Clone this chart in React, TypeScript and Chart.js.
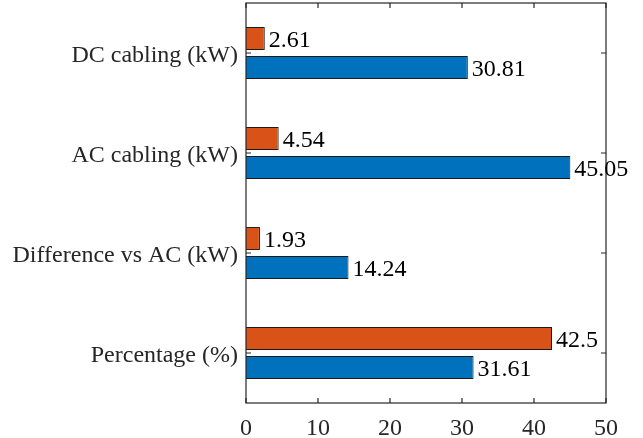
import React, { useEffect, useRef } from "react";
import { Chart, registerables, type ChartConfiguration, type Plugin } from "chart.js";

Chart.register(...registerables);

// chart data
const categories = ["DC cabling (kW)", "AC cabling (kW)", "Difference vs AC (kW)", "Percentage (%)"];
const orangeValues = [2.61, 4.54, 1.93, 42.5];
const blueValues = [30.81, 45.05, 14.24, 31.61];
const xTicks = [0, 10, 20, 30, 40, 50];

const FONT = "'Liberation Serif', 'Times New Roman', serif";
const AXIS_COLOR = "#262626";

// MATLAB style box with inward ticks
const framePlugin: Plugin<"bar"> = {
  id: "frame",
  afterDatasetsDraw(chart) {
    const { ctx, chartArea: a, scales } = chart;
    const x = scales.x;
    const y = scales.y;
    const len = 5;
    ctx.save();
    ctx.strokeStyle = AXIS_COLOR;
    ctx.lineWidth = 1.2;
    ctx.strokeRect(a.left, a.top, a.right - a.left, a.bottom - a.top);
    ctx.beginPath();
    xTicks.forEach((t) => {
      const px = x.getPixelForValue(t);
      ctx.moveTo(px, a.bottom);
      ctx.lineTo(px, a.bottom - len);
      ctx.moveTo(px, a.top);
      ctx.lineTo(px, a.top + len);
    });
    categories.forEach((_, i) => {
      const py = y.getPixelForValue(i);
      ctx.moveTo(a.left, py);
      ctx.lineTo(a.left + len, py);
      ctx.moveTo(a.right, py);
      ctx.lineTo(a.right - len, py);
    });
    ctx.stroke();

    // value labels next to the bars
    ctx.fillStyle = "#000000";
    ctx.font = `24px ${FONT}`;
    ctx.textAlign = "left";
    ctx.textBaseline = "middle";
    chart.data.datasets.forEach((ds, di) => {
      const meta = chart.getDatasetMeta(di);
      meta.data.forEach((bar: any, i) => {
        ctx.fillText(String(ds.data[i]), bar.x + 4, bar.y + 2);
      });
    });
    ctx.restore();
  },
};

const App: React.FC = () => {
  const canvasRef = useRef<HTMLCanvasElement | null>(null);

  useEffect(() => {
    const ctx = canvasRef.current?.getContext("2d");
    if (!ctx) return;

    const config: ChartConfiguration<"bar"> = {
      type: "bar",
      data: {
        labels: categories,
        datasets: [
          {
            label: "orange",
            data: orangeValues,
            backgroundColor: "#D95319",
            borderColor: "#1a1a1a",
            borderWidth: 1,
            categoryPercentage: 0.58,
            barPercentage: 0.8,
          },
          {
            label: "blue",
            data: blueValues,
            backgroundColor: "#0072BD",
            borderColor: "#1a1a1a",
            borderWidth: 1,
            categoryPercentage: 0.58,
            barPercentage: 0.8,
          },
        ],
      },
      options: {
        indexAxis: "y",
        responsive: false,
        animation: false,
        layout: { padding: { top: 3, right: 37, left: 0, bottom: 0 } },
        plugins: { legend: { display: false }, tooltip: { enabled: false } },
        scales: {
          x: {
            min: 0,
            max: 50,
            grid: { display: false, drawTicks: false },
            border: { display: false },
            ticks: { stepSize: 10, color: AXIS_COLOR, font: { family: FONT, size: 24 }, padding: 11 },
            afterFit: (s: any) => {
              s.height = 35;
              s.paddingLeft = 0;
              s.paddingRight = 0;
            },
          },
          y: {
            grid: { display: false, drawTicks: false },
            border: { display: false },
            ticks: { color: AXIS_COLOR, font: { family: FONT, size: 24 }, padding: 8, labelOffset: 3 },
            afterFit: (s: any) => {
              s.width = 246;
              s.paddingTop = 0;
              s.paddingBottom = 0;
            },
          },
        },
      },
      plugins: [framePlugin],
    };

    const chart = new Chart(ctx, config);
    return () => chart.destroy();
  }, []);

  return (
    <div style={styles.wrap}>
      <canvas ref={canvasRef} width={643} height={438} style={styles.canvas} />
    </div>
  );
};

const styles = {
  wrap: { position: "fixed", left: 0, top: 0, width: "643px", height: "438px", background: "#FFFFFF" } as React.CSSProperties,
  canvas: { width: "643px", height: "438px", display: "block" } as React.CSSProperties,
};

export default App;
